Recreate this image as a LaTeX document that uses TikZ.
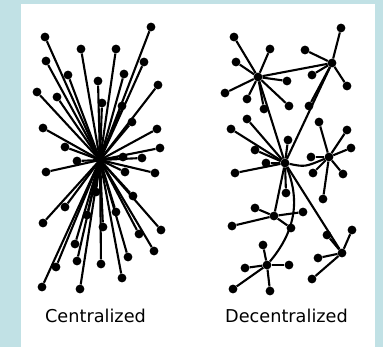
\documentclass[tikz,border=0pt]{standalone}
\usepackage{fontspec}
\setmainfont{DejaVu Sans}
\definecolor{paleblue}{RGB}{193,225,229}
\begin{document}
\begin{tikzpicture}[x=1pt,y=-1pt]
    \tikzstyle{dot}=[circle,fill=black,inner sep=0pt,minimum size=8.8pt]
    \tikzstyle{link}=[draw=black,line width=2.1pt]
    \tikzstyle{caption}=[anchor=base,font=\fontsize{17.7}{20}\selectfont]

    \useasboundingbox (0,0) rectangle (383,347);
    \fill[paleblue] (0,0) rectangle (383,347);
    \fill[white] (21,4) rectangle (375,347);

    % centralized
    \coordinate (hub) at (100,160);
    \foreach \n/\x/\y in {1/151/27, 2/45/37, 3/81/49, 4/116/49, 5/46/61,
                          6/144/62, 7/68/75, 8/124/74, 9/98/81, 10/158/85,
                          11/37/92, 12/57/97, 13/102/103, 14/122/106, 15/132/122,
                          16/43/128, 17/157/129, 18/65/147, 19/160/148, 20/123/157,
                          21/142/158, 22/77/161, 23/46/172, 24/125/172, 25/155/173,
                          26/96/192, 27/133/196, 28/65/207, 29/116/212, 30/87/215,
                          31/43/223, 32/103/227, 33/161/230, 34/139/234, 35/75/244,
                          36/154/251, 37/128/257, 38/77/261, 39/101/264, 40/56/267,
                          41/122/278, 42/42/287, 43/80/289}
    {
        \node[dot] (c\n) at (\x,\y) {};
        \draw[link] (hub) -- (c\n);
    }

    % decentralized
    \node[dot] (ha) at (258,77) {};
    \node[dot] (hb) at (332,63) {};
    \node[dot] (hc) at (285,163) {};
    \node[dot] (hd) at (329,157) {};
    \node[dot] (he) at (274,216) {};
    \node[dot] (hf) at (267,265) {};
    \node[dot] (hg) at (342,253) {};

    \draw[link] (ha) -- (hb)
                (ha) -- (hc)
                (hb) -- (hc)
                (hc) -- (he)
                (hc) -- (hg);
    \draw[link] (hc) .. controls (305,167) .. (hd);
    \draw[link] (hc) .. controls (302,205) and (292,235) .. (hf);

    \foreach \h/\n/\x/\y in {a/1/234/37, a/2/270/49, a/3/236/62, a/4/287/81,
                             a/5/225/93, a/6/247/99, a/7/264/109, a/8/289/106,
                             b/1/341/28, b/2/305/50, b/3/312/75, b/4/347/86, b/5/309/106,
                             c/1/247/119, c/2/231/129, c/3/288/140, c/4/255/150,
                             c/5/266/163, c/6/235/173, c/7/286/193,
                             d/1/319/122, d/2/347/130, d/3/351/148, d/4/311/157,
                             d/5/313/173, d/6/343/174, d/7/323/199,
                             e/1/255/208, e/2/303/212, e/3/232/226, e/4/291/228,
                             f/1/263/245, f/2/245/268, f/3/289/265, f/4/233/289, f/5/270/291,
                             g/1/352/230, g/2/327/235, g/3/318/258, g/4/312/279}
    {
        \node[dot] (\h\n) at (\x,\y) {};
        \draw[link] (h\h) -- (\h\n);
    }

    \node[caption] (central) at (95.5,323) {Centralized};
    \node[caption] (decentral) at (286.5,323) {Decentralized};

\end{tikzpicture}
\end{document}
